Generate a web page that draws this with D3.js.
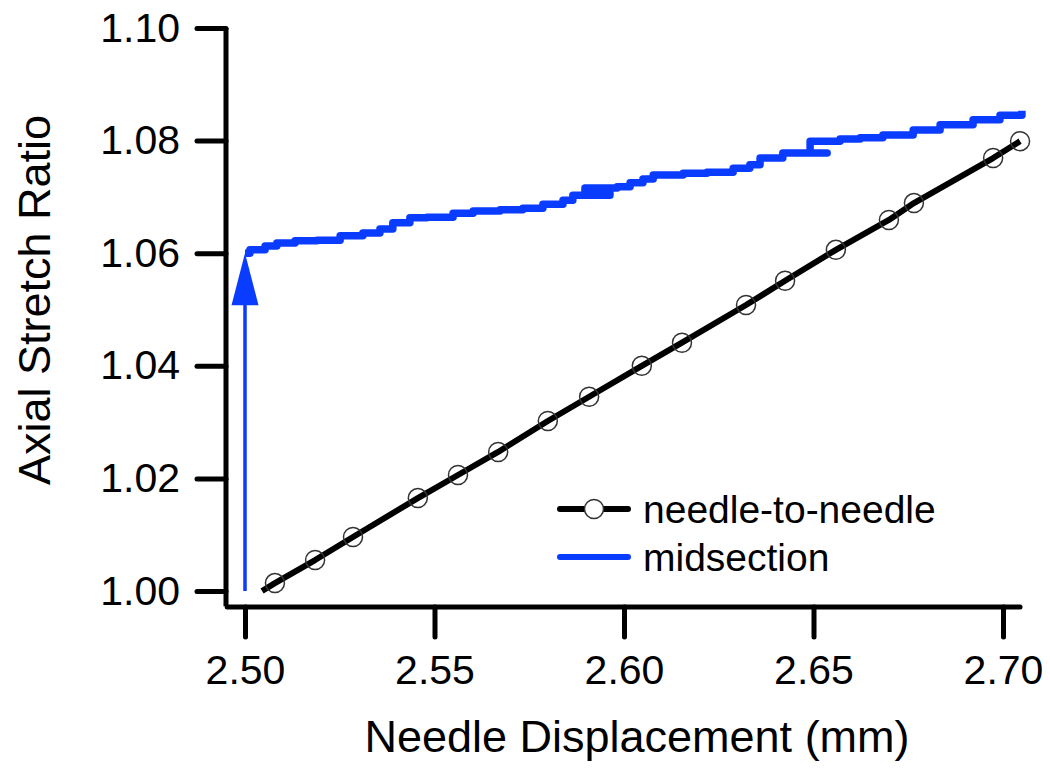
<!DOCTYPE html>
<html>
<head>
<meta charset="utf-8">
<script src="https://cdn.jsdelivr.net/npm/d3@7"></script>
<style>
  html, body { margin: 0; padding: 0; background: #fff; }
  svg { display: block; font-family: Arial, "Liberation Sans", sans-serif; }
</style>
</head>
<body>
<svg id="chart" width="1050" height="768"></svg>
<script>
// ---- data ----
const xTicks = [2.50, 2.55, 2.60, 2.65, 2.70];
const yTicks = [1.00, 1.02, 1.04, 1.06, 1.08, 1.10];
const xAxisExtent = [2.4953, 2.7045];
const yAxisExtent = [0.9973, 1.10];

// needle-to-needle (first point is the line start, without marker)
const needleX = [2.5045, 2.5079, 2.5185, 2.5285, 2.5456, 2.5562, 2.5668, 2.5799, 2.5908, 2.6047, 2.6153, 2.6322, 2.6425, 2.6559, 2.6699, 2.6765, 2.6974, 2.7045];
const needleY = [1.0000, 1.0014, 1.0055, 1.0096, 1.0165, 1.0206, 1.0247, 1.0302, 1.0345, 1.0400, 1.0441, 1.0508, 1.0551, 1.0606, 1.0659, 1.0689, 1.0769, 1.0799];

// midsection
const midX = [2.5000, 2.5013, 2.5053, 2.5084, 2.5132, 2.5190, 2.5251, 2.5311, 2.5356, 2.5390, 2.5435, 2.5480, 2.5549, 2.5602, 2.5673, 2.5733, 2.5786, 2.5839, 2.5865, 2.5963, 2.5897, 2.5982, 2.6016, 2.6050, 2.6077, 2.6156, 2.6219, 2.6288, 2.6332, 2.6359, 2.6419, 2.6536, 2.6491, 2.6570, 2.6623, 2.6683, 2.6763, 2.6834, 2.6921, 2.6992, 2.7050];
const midY = [1.0600, 1.0606, 1.0613, 1.0618, 1.0622, 1.0623, 1.0631, 1.0636, 1.0643, 1.0654, 1.0663, 1.0664, 1.0671, 1.0675, 1.0677, 1.0680, 1.0687, 1.0694, 1.0703, 1.0707, 1.0716, 1.0718, 1.0725, 1.0732, 1.0739, 1.0742, 1.0744, 1.0751, 1.0757, 1.0769, 1.0778, 1.0778, 1.0799, 1.0803, 1.0805, 1.0810, 1.0819, 1.0828, 1.0837, 1.0845, 1.0853];

// arrow (vertical) for midsection
const arrowX = [2.50, 2.50];
const arrowY = [1.00, 1.06];

const seriesNames = ["needle-to-needle", "midsection"];
const xTitle = "Needle Displacement (mm)";
const yTitle = "Axial Stretch Ratio";

// ---- drawing ----
const svg = d3.select("#chart");
const x = d3.scaleLinear().domain([2.50, 2.70]).range([245, 1003]);
const y = d3.scaleLinear().domain([1.00, 1.10]).range([591, 28]);
const blue = "#0a3cff";
const font = "Arial, 'Liberation Sans', sans-serif";

const yAxisX = 226, xAxisY = 607;

// Y axis
const gy = svg.append("g").attr("transform", `translate(${yAxisX},0)`)
  .call(d3.axisLeft(y).tickValues(yTicks).tickFormat(d3.format(".2f")).tickSize(29).tickSizeOuter(0).tickPadding(17));
gy.select(".domain").remove();
gy.selectAll(".tick line").attr("stroke", "#000").attr("stroke-width", 5).attr("stroke-linecap", "round");
gy.selectAll(".tick text").attr("font-size", 41).attr("fill", "#000").attr("font-family", font);
gy.append("line").attr("x1", 0).attr("x2", 0)
  .attr("y1", y(yAxisExtent[1])).attr("y2", y(yAxisExtent[0]))
  .attr("stroke", "#000").attr("stroke-width", 5);

// X axis
const gx = svg.append("g").attr("transform", `translate(0,${xAxisY})`)
  .call(d3.axisBottom(x).tickValues(xTicks).tickFormat(d3.format(".2f")).tickSize(30).tickSizeOuter(0).tickPadding(18));
gx.select(".domain").remove();
gx.selectAll(".tick line").attr("stroke", "#000").attr("stroke-width", 5).attr("stroke-linecap", "round");
gx.selectAll(".tick text").attr("font-size", 41).attr("fill", "#000").attr("font-family", font);
gx.append("line").attr("y1", 0).attr("y2", 0)
  .attr("x1", x(xAxisExtent[0])).attr("x2", x(xAxisExtent[1]))
  .attr("stroke", "#000").attr("stroke-width", 5).attr("stroke-linecap", "round");

// Titles
svg.append("text").attr("x", 637).attr("y", 752).attr("text-anchor", "middle")
  .attr("font-size", 45).attr("font-family", font).text(xTitle);
svg.append("text").attr("transform", "translate(50,300) rotate(-90)").attr("text-anchor", "middle")
  .attr("font-size", 45).attr("font-family", font).text(yTitle);

// midsection arrow
const arrowLen = 52, arrowHalf = 13.5;
const ax = x(arrowX[0]);
svg.append("line").attr("x1", ax).attr("x2", ax)
  .attr("y1", y(arrowY[0])).attr("y2", y(arrowY[1]) + arrowLen - 2)
  .attr("stroke", blue).attr("stroke-width", 3.5);
svg.append("path")
  .attr("d", `M${ax},${y(arrowY[1])} L${ax - arrowHalf},${y(arrowY[1]) + arrowLen} L${ax + arrowHalf},${y(arrowY[1]) + arrowLen} Z`)
  .attr("fill", blue);

// midsection line
const midData = midX.map((d, i) => [d, midY[i]]);
svg.append("path").datum(midData)
  .attr("d", d3.line().x(d => x(d[0])).y(d => y(d[1])).curve(d3.curveStepAfter))
  .attr("fill", "none").attr("stroke", blue).attr("stroke-width", 7.5).attr("stroke-linejoin", "round");

// needle line
const needleData = needleX.map((d, i) => [d, needleY[i]]);
svg.append("path").datum(needleData)
  .attr("d", d3.line().x(d => x(d[0])).y(d => y(d[1])))
  .attr("fill", "none").attr("stroke", "#000").attr("stroke-width", 6).attr("stroke-linejoin", "round");
svg.append("g").selectAll("circle").data(needleData.slice(1)).join("circle")
  .attr("cx", d => x(d[0])).attr("cy", d => y(d[1])).attr("r", 9.5)
  .attr("fill", "none").attr("stroke", "#333").attr("stroke-width", 1.5);

// Legend
const leg = svg.append("g");
leg.append("line").attr("x1", 560).attr("x2", 628).attr("y1", 509).attr("y2", 509)
  .attr("stroke", "#000").attr("stroke-width", 6).attr("stroke-linecap", "round");
leg.append("circle").attr("cx", 594).attr("cy", 509).attr("r", 9.5)
  .attr("fill", "#fff").attr("stroke", "#333").attr("stroke-width", 1.5);
leg.append("line").attr("x1", 560).attr("x2", 628).attr("y1", 557).attr("y2", 557)
  .attr("stroke", blue).attr("stroke-width", 6).attr("stroke-linecap", "round");
leg.selectAll("text").data(seriesNames).join("text")
  .attr("x", 643).attr("y", (d, i) => 509 + i * 48).attr("dy", "0.35em")
  .attr("font-size", 39).attr("font-family", font).text(d => d);
</script>
</body>
</html>
